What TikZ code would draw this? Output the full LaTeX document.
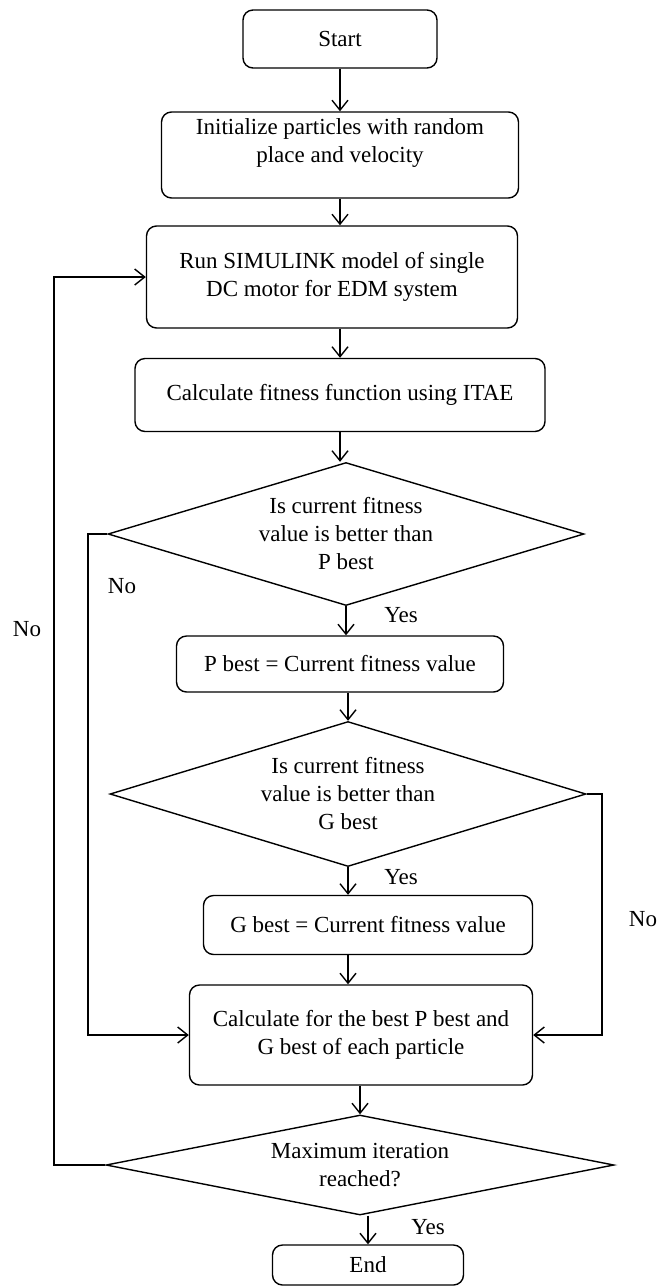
\documentclass[tikz,border=0pt]{standalone}
\usepackage{fontspec}
\setmainfont{Liberation Serif}
\usetikzlibrary{shapes.geometric,arrows.meta}

\begin{document}
\begin{tikzpicture}[x=0.5pt,y=-0.5pt,
font=\fontsize{11.5}{14}\selectfont,
every node/.style={align=center,inner sep=0pt},
flowbox/.style 2 args={draw,rounded corners=5pt,line width=0.7pt,minimum width=#1*0.5pt,minimum height=#2*0.5pt},
decision/.style n args={3}{draw,diamond,line width=0.7pt,shape aspect=#3,minimum width=#1*0.5pt,minimum height=#2*0.5pt},
arr/.style={-{Straight Barb[length=5pt,width=8pt]},line width=0.7pt}]
\useasboundingbox (0,0) rectangle (658,1287);

%steps of the search, top to bottom
\node[flowbox={194}{58}] (start) at (340,39) {Start};
\node[flowbox={357}{86}] (init) at (340,155) {Initialize particles with random\\ place and velocity\\ \mbox{}};
\node[flowbox={371}{102}] (run) at (332,277) {Run SIMULINK model of single\\ DC motor for EDM system};
\node[flowbox={410}{73}] (fit) at (340,395) {Calculate fitness function using ITAE};
\node[decision={476}{143}{3.33}] (pcheck) at (346,534) {Is current fitness\\ value is better than\\ P best};
\node[flowbox={327}{56}] (pbest) at (340,664) {P best = Current fitness value};
\node[decision={476}{145}{3.28}] (gcheck) at (348,794) {Is current fitness\\ value is better than\\ G best};
\node[flowbox={329}{59}] (gbest) at (368,925) {G best = Current fitness value};
\node[flowbox={343}{100}] (upd) at (361,1035) {Calculate for the best P best and\\ G best of each particle};
\node[decision={508}{100}{5.08}] (iter) at (360,1165) {Maximum iteration\\ reached?};
\node[flowbox={191}{40}] (stop) at (368,1265) {End};

%straight arrows down the column
\foreach \a/\b in {start/init,init/run,fit/pcheck,pcheck/pbest,gcheck/gbest}
  \draw[arr] (\a.south) -- (\a.south |- \b.north);
\foreach \a/\b in {run/fit,pbest/gcheck,upd/iter,iter/stop}
  \draw[arr] (\b.north |- \a.south) -- (\b.north);
\draw[arr] (gcheck.south |- gbest.south) -- (gcheck.south |- upd.north);

%the three loops back
\coordinate (outer) at (54,1165);
\coordinate (left) at (88,534);
\coordinate (right) at (602,794);
\draw[arr] (iter.west) -- (outer) |- (run.west);
\draw[arr] (pcheck.west) -- (left) |- (upd.west);
\draw[arr] (gcheck.east) -- (right) |- (upd.east);

%answers
\node (no1) at (27,629) {No};
\node (no2) at (122,586) {No};
\node (no3) at (643,919) {No};
\node (yes1) at (401,615) {Yes};
\node (yes2) at (401,877) {Yes};
\node (yes3) at (428,1227) {Yes};

\end{tikzpicture}
\end{document}
